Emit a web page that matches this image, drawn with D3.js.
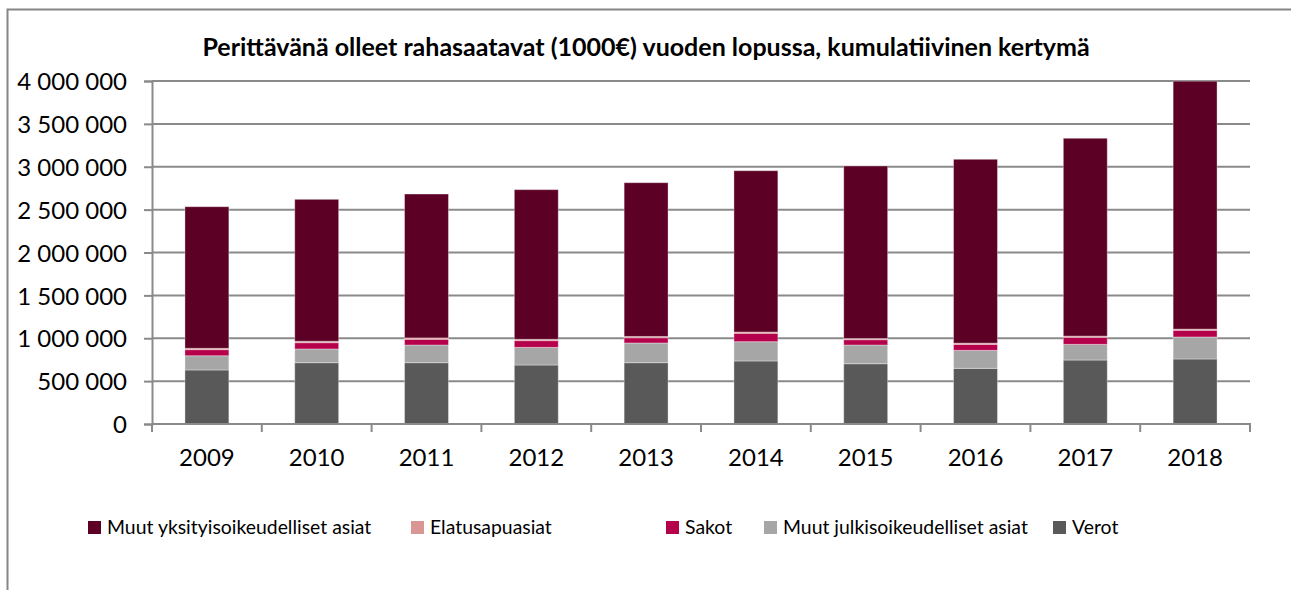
<!DOCTYPE html>
<html>
<head>
<meta charset="utf-8">
<script src="https://cdn.jsdelivr.net/npm/d3@7"></script>
<style>
  body { margin: 0; background: #fff; }
  text { font-family: Lato, "Open Sans", sans-serif; fill: #000; }
</style>
</head>
<body>
<script>
// perittävänä olleet rahasaatavat, stacked bars

var years = ["2009", "2010", "2011", "2012", "2013", "2014", "2015", "2016", "2017", "2018"];

// series values (1000 €), bottom to top
var verot    = [630000, 715000, 715000, 688000, 715000, 735000, 703000, 649000, 746000, 758000];
var julkis   = [166000, 160000, 206000, 206000, 230000, 225000, 218000, 210000, 183000, 257000];
var sakot    = [71000, 73000, 67000, 78000, 61000, 98000, 62000, 70000, 82000, 78000];
var elatus   = [16000, 17000, 16000, 16000, 15000, 15000, 14000, 14000, 14000, 14000];
var yksityis = [1651000, 1655000, 1678000, 1745000, 1793000, 1881000, 2012000, 2144000, 2307000, 2891000];

var seriesNames = ["Muut yksityisoikeudelliset asiat", "Elatusapuasiat", "Sakot", "Muut julkisoikeudelliset asiat", "Verot"];
var seriesColors = ["#5c0026", "#d99694", "#b5004b", "#a6a6a6", "#595959"];
var yTicks = [0, 500000, 1000000, 1500000, 2000000, 2500000, 3000000, 3500000, 4000000];

var title = "Perittävänä olleet rahasaatavat (1000€) vuoden lopussa, kumulatiivinen kertymä";

window.onload = function(){
    var w = 1291, h = 590;

    var svg = d3.select("body")
        .append("svg")
        .attr("width", w)
        .attr("height", h);

    // chart frame (runs off right/bottom edge)
    svg.append("rect")
        .attr("x", 7.5)
        .attr("y", 9.5)
        .attr("width", 1300)
        .attr("height", 600)
        .style("fill", "none")
        .style("stroke", "#868686")
        .style("stroke-width", 2);

    //build table for the stack (keys = series names)
    var table = years.map(function(y, i){
        return {
            year: y,
            "Verot": verot[i],
            "Muut julkisoikeudelliset asiat": julkis[i],
            "Sakot": sakot[i],
            "Elatusapuasiat": elatus[i],
            "Muut yksityisoikeudelliset asiat": yksityis[i]
        };
    });
    var stackKeys = seriesNames.slice().reverse(); // verot at bottom
    var stacked = d3.stack().keys(stackKeys)(table);

    var color = d3.scaleOrdinal().domain(seriesNames).range(seriesColors);

    var x = d3.scaleBand()
        .domain(years)
        .range([152, 1250])
        .paddingInner(0.6)
        .paddingOuter(0.3);

    var y = d3.scaleLinear()
        .domain([0, 4000000])
        .range([424, 81]);

    var fmt = function(d){ return d3.format(",")(d).replace(/,/g, " "); };

    //gridlines
    svg.append("g").selectAll("line")
        .data(yTicks.slice(1))
        .enter()
        .append("line")
        .attr("x1", 152).attr("x2", 1250)
        .attr("y1", function(d){ return y(d); })
        .attr("y2", function(d){ return y(d); })
        .style("stroke", "#8a8a8a")
        .style("stroke-width", 2);

    //bars
    svg.append("g").selectAll("g")
        .data(stacked)
        .enter()
        .append("g")
        .style("fill", function(d){ return color(d.key); })
        .selectAll("rect")
        .data(function(d){ return d; })
        .enter()
        .append("rect")
        .attr("x", function(d){ return x(d.data.year); })
        .attr("width", x.bandwidth())
        .attr("y", function(d){ return y(Math.min(d[1], 4000000)); })
        .attr("height", function(d){ return y(d[0]) - y(Math.min(d[1], 4000000)); })
        .style("stroke", "rgba(255,255,255,0.35)")
        .style("stroke-width", 1);

    //y axis
    var yAxis = d3.axisLeft(y)
        .tickValues(yTicks)
        .tickSize(8)
        .tickPadding(17)
        .tickFormat(fmt);
    var gy = svg.append("g")
        .attr("transform", "translate(152,0)")
        .call(yAxis);
    gy.select(".domain").style("stroke", "#8a8a8a").style("stroke-width", 2);
    gy.selectAll(".tick line").style("stroke", "#8a8a8a").style("stroke-width", 2);
    gy.selectAll(".tick text")
        .style("font-size", "24px")
        .style("font-family", "Lato, sans-serif")
        .attr("dy", "0.36em");

    //x axis
    var xAxis = d3.axisBottom(x).tickSize(0).tickPadding(25);
    var gx = svg.append("g")
        .attr("transform", "translate(0,424)")
        .call(xAxis);
    gx.select(".domain").remove();
    gx.selectAll(".tick text")
        .style("font-size", "24px")
        .style("font-family", "Lato, sans-serif");
    gx.append("line")
        .attr("x1", 152).attr("x2", 1251)
        .style("stroke", "#8a8a8a").style("stroke-width", 2);
    //category boundary ticks
    var bounds = years.map(function(yr){ return x(yr) - x.step() * 0.3; });
    bounds.push(x.range()[1]);
    gx.selectAll(".bound")
        .data(bounds)
        .enter()
        .append("line")
        .attr("class", "bound")
        .attr("x1", function(d){ return d; })
        .attr("x2", function(d){ return d; })
        .attr("y1", 0).attr("y2", 8)
        .style("stroke", "#8a8a8a").style("stroke-width", 2);

    //title
    svg.append("text")
        .attr("x", 646)
        .attr("y", 56)
        .attr("text-anchor", "middle")
        .style("font-size", "25px")
        .style("font-weight", "bold")
        .text(title);

    //legend
    var legendX = [88, 411, 666, 764, 1053];
    var legend = svg.selectAll(".legend")
        .data(seriesNames)
        .enter()
        .append("g")
        .attr("class", "legend")
        .attr("transform", function(d, i){ return "translate(" + legendX[i] + ",521)"; });
    legend.append("rect")
        .attr("width", 13).attr("height", 13)
        .style("fill", function(d){ return color(d); });
    legend.append("text")
        .attr("x", 19)
        .attr("y", 13)
        .style("font-size", "19.4px")
        .text(function(d){ return d; });
};
</script>
</body>
</html>
